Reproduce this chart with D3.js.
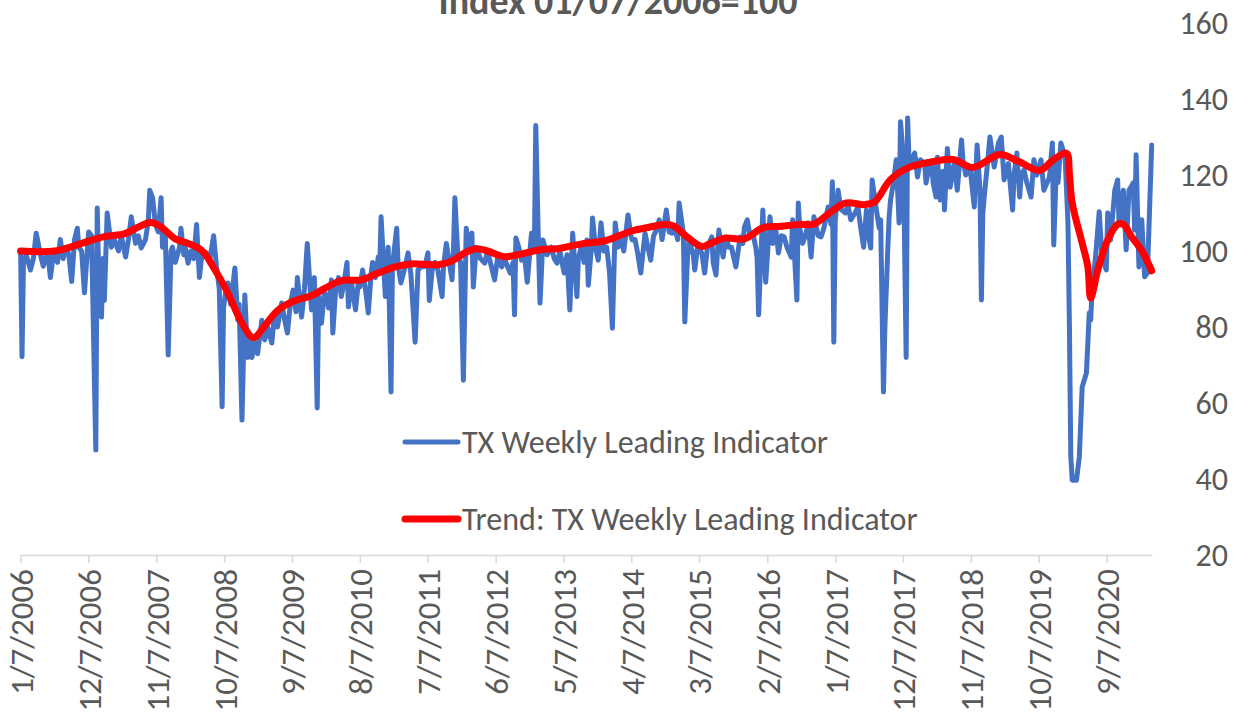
<!DOCTYPE html>
<html lang="en">

<head>
  <meta charset="UTF-8" />
  <title>TX Weekly Leading Indicator</title>
  <script src="https://d3js.org/d3.v7.min.js"></script>
  <style>
    body {
      margin: 0;
      background: #fff;
      font-family: Carlito, Lato, "Liberation Sans", sans-serif;
    }

    text {
      fill: #595959;
    }
  </style>
</head>

<body>
  <svg width="1242" height="715"></svg>

  <script>
    // weekly series, first week = 1/7/2006
    const startDate = new Date(2006, 0, 7);

    const txWeeks = [
      0, 1, 2, 4, 7, 9, 11, 14, 16, 19, 21, 23, 26, 28, 30, 32, 34, 36, 38, 40,
      41, 43, 45, 47, 48, 50, 53, 54, 55, 57, 58, 59, 61, 64, 66, 69, 71, 74, 76, 78,
      81, 83, 85, 88, 90, 91, 93, 95, 97, 99, 100, 102, 104, 106, 107, 109, 112, 113, 115, 116,
      118, 120, 122, 124, 126, 128, 131, 133, 136, 138, 140, 142, 143, 144, 146, 148, 151, 153, 154, 156,
      158, 160, 161, 163, 165, 167, 170, 172, 174, 177, 179, 181, 184, 186, 188, 190, 192, 194, 195, 197,
      198, 200, 202, 205, 206, 207, 209, 210, 212, 214, 216, 217, 219, 220, 222, 224, 226, 228, 230, 231,
      233, 236, 238, 239, 241, 243, 245, 247, 248, 250, 252, 253, 254, 257, 259, 261, 262, 265, 266, 268,
      271, 273, 275, 278, 280, 282, 285, 287, 288, 290, 292, 294, 297, 298, 300, 302, 304, 305, 306, 308,
      310, 312, 314, 316, 318, 319, 321, 322, 324, 327, 329, 331, 334, 336, 339, 341, 343, 345, 347, 348,
      349, 351, 353, 355, 357, 360, 362, 363, 365, 366, 368, 371, 374, 376, 378, 380, 383, 385, 387, 389,
      392, 393, 395, 397, 399, 400, 402, 403, 405, 407, 409, 411, 413, 415, 417, 419, 421, 423, 425, 428,
      430, 431, 433, 435, 437, 440, 442, 444, 446, 448, 450, 452, 455, 457, 459, 461, 463, 464, 467, 468,
      470, 471, 474, 475, 477, 480, 482, 484, 487, 488, 490, 492, 493, 495, 497, 499, 501, 502, 504, 507,
      509, 510, 512, 514, 516, 518, 519, 520, 523, 525, 528, 530, 532, 534, 536, 538, 540, 543, 544, 547,
      548, 549, 551, 553, 555, 557, 559, 562, 564, 566, 569, 571, 572, 573, 574, 576, 578, 581, 583, 585,
      588, 590, 592, 594, 596, 597, 599, 600, 603, 605, 606, 608, 609, 611, 612, 613, 615, 617, 619, 620,
      622, 624, 625, 626, 627, 630, 632, 634, 637, 638, 640, 642, 643, 645, 646, 648, 650, 651, 653, 655,
      658, 660, 663, 664, 666, 669, 672, 674, 676, 677, 678, 679, 682, 683, 686, 689, 691, 693, 696, 699,
      700, 702, 704, 705, 707, 709, 712, 714, 716, 719, 721, 725, 727, 728, 730, 731, 733, 736, 738, 739,
      740, 741, 744, 746, 748, 751, 752, 753, 754, 755, 757, 758, 760, 762, 765, 766, 768, 771, 773, 774,
      777, 779, 781, 784, 785, 786, 788, 790, 792, 794, 797
    ];

    const txValues = [
      100, 72.2, 97, 99, 95, 98, 104.7, 99, 96, 100, 93, 99, 97, 103, 98, 101, 99, 92, 103, 106,
      101, 100, 89, 100, 105, 104, 47.6, 111.3, 95, 82.6, 98, 87, 110, 101, 103, 100, 104, 98.4, 103, 109,
      102, 104, 100.8, 103, 108, 116, 114, 107, 105, 114, 101, 104, 72.6, 100, 101, 97, 101, 106, 99, 101,
      96.8, 100, 98, 107, 93, 100, 99.5, 97, 104, 96, 90, 59, 85, 88, 91.6, 86, 95.5, 81.8, 86, 55.5,
      88.4, 72, 78, 72, 76, 73, 81.8, 76.6, 80, 75.8, 83.7, 80, 86.3, 82, 78.4, 86, 89.7, 84, 93, 86,
      82.6, 90, 102, 84.5, 91, 93, 58.7, 88, 81, 89, 88, 85, 92.4, 78.4, 90, 93, 88, 92, 97, 85.3,
      92, 84.5, 92, 90.5, 95, 90, 83.7, 94, 97, 93, 98.4, 95, 109, 88, 101, 62.9, 96, 106, 96, 91.6,
      96, 99.5, 94, 76, 95, 95.8, 96, 99.5, 87, 95, 97, 95, 88, 96, 102, 97, 92.4, 100, 114, 99.5,
      97, 66, 106, 100, 104.7, 90.5, 101, 100, 98, 96.8, 100, 97, 92.4, 98, 95.8, 98, 96, 94.2, 97, 83.2,
      103.4, 101, 97.6, 99, 91.8, 104.7, 100, 133, 100, 86.3, 102.9, 99, 101, 98, 96.8, 100, 94.2, 99, 84.5, 104.7,
      88, 98, 101, 97, 102.9, 91, 100, 108.7, 101, 97.6, 107.4, 100, 101, 94.2, 79.7, 107.4, 101, 102.9, 100, 109.5,
      104, 102.9, 103, 99, 94.2, 104.7, 101, 97.6, 104, 105.5, 108.2, 103, 110.8, 105, 104.7, 106, 103, 112.6, 104.7, 81.3,
      99, 102.9, 99, 95, 101, 99.5, 94.2, 101, 103.7, 97, 93.7, 105.5, 103, 98.4, 103.7, 101, 101, 99, 95.8, 103.7,
      102, 106.3, 108.2, 104, 104.7, 101, 98, 83.2, 110.8, 91.8, 109, 102, 106, 99.5, 104, 103.7, 101, 98.4, 108.2, 87.1,
      112.6, 106, 102, 104, 107.4, 98.4, 109, 104, 103.7, 106, 111.6, 107, 118.2, 76, 108, 116, 111, 110, 112, 108.2,
      110, 111.6, 106, 101, 110.8, 105, 100.8, 118.7, 110.8, 106, 108.2, 62.9, 80, 100, 109, 113.4, 118, 124, 107.4, 134,
      124.7, 72, 135, 124, 123, 125.8, 119.5, 124, 123, 117.9, 122, 123, 118, 114.2, 124.7, 113.4, 121, 110.8, 127, 116.8,
      123.4, 116, 129.2, 124, 120, 122, 111.6, 127.9, 116, 87.1, 110, 114.2, 125.8, 130, 122.1, 128.4, 130, 118.7, 123, 110.8,
      120, 125.8, 114.2, 120, 121.3, 118, 114.2, 124, 120, 124, 116, 119.5, 128.4, 101.6, 124.7, 118, 128.4, 124.7, 107.4, 81,
      45.8, 39.7, 39.7, 45.8, 64.2, 67.9, 75.8, 83.7, 81.8, 89.7, 96.8, 101, 110.3, 98.4, 95, 110, 102.9, 116, 118.7, 107.4,
      116, 100.3, 116, 117.9, 105.5, 125.3, 95.8, 108.2, 93.2, 94.2, 127.9
    ];

    const trendWeeks = [
      0, 24, 43, 59, 73, 83, 92, 99, 109, 118, 128, 137, 146, 156, 164, 172, 181, 193, 205, 214,
      226, 240, 252, 264, 275, 294, 304, 313, 321, 329, 341, 350, 367, 378, 397, 412, 430, 442, 456, 461,
      470, 480, 485, 496, 510, 523, 536, 548, 559, 569, 581, 595, 602, 613, 626, 644, 657, 671, 690, 703,
      718, 728, 737, 739, 741, 748, 752, 754, 759, 766, 773, 777, 783, 790, 797
    ];

    const trendValues = [
      100, 100, 102, 103.8, 104.5, 106.3, 107.5, 106.3, 103.2, 102, 100, 95, 89, 81, 77.2, 80.3, 84.3, 86.9, 88.2, 90.1,
      92.2, 92.4, 94.2, 95.8, 96.6, 96.4, 97.4, 99.5, 100.6, 100, 98.5, 99, 100.4, 100.6, 102, 102.7, 105.2, 106.2, 107, 106.4,
      103.6, 101.2, 101.8, 103.4, 103.2, 106.1, 106.5, 107, 107.1, 109.7, 112.6, 112.2, 113, 118.8, 122, 123.6, 124.1, 122, 125.4, 123.6,
      121.2, 124.1, 125.7, 120.3, 112.6, 102.1, 95.8, 87.6, 95, 102.9, 107, 107, 103.6, 100.1, 94.8
    ];

    const tickLabels = [
      "1/7/2006", "12/7/2006", "11/7/2007", "10/7/2008", "9/7/2009", "8/7/2010",
      "7/7/2011", "6/7/2012", "5/7/2013", "4/7/2014", "3/7/2015", "2/7/2016",
      "1/7/2017", "12/7/2017", "11/7/2018", "10/7/2019", "9/7/2020"
    ];

    const yTicks = [20, 40, 60, 80, 100, 120, 140, 160];

    const seriesNames = ["TX Weekly Leading Indicator", "Trend: TX Weekly Leading Indicator"];
    const seriesColors = ["#4472C4", "#FF0000"];

    const svg = d3.select("svg");
    const weekDate = w => d3.timeDay.offset(startDate, w * 7);
    const parseLabel = d3.timeParse("%-m/%-d/%Y");

    const x = d3.scaleTime()
      .domain([startDate, weekDate(d3.max(txWeeks))])
      .range([20.6, 1151.7]);
    const y = d3.scaleLinear()
      .domain([20, 160])
      .range([555, 23]);

    const tx = txWeeks.map((w, i) => ({ date: weekDate(w), value: txValues[i] }));
    const trend = trendWeeks.map((w, i) => ({ date: weekDate(w), value: trendValues[i] }));

    // title (its top is cut off in the original)
    svg.append("text")
      .attr("x", 618)
      .attr("y", 14)
      .attr("text-anchor", "middle")
      .style("font-size", "38px")
      .style("font-weight", "bold")
      .text("Index 01/07/2006=100");

    // x axis
    const xAxis = d3.axisBottom(x)
      .tickValues(tickLabels.map(parseLabel))
      .tickFormat((d, i) => tickLabels[i])
      .tickSize(8)
      .tickSizeOuter(0);
    const gx = svg.append("g")
      .attr("transform", "translate(0,555)")
      .call(xAxis);
    gx.select(".domain").attr("stroke", "#D9D9D9").attr("stroke-width", 1.5);
    gx.selectAll(".tick line").attr("stroke", "#D9D9D9").attr("stroke-width", 1.5);
    gx.selectAll(".tick text")
      .attr("transform", "rotate(-90)")
      .attr("x", -14)
      .attr("y", 0)
      .attr("dy", "0.36em")
      .style("text-anchor", "end")
      .style("font-size", "33px")
      .style("font-family", "Carlito, Lato, sans-serif")
      .attr("fill", "#595959");

    // y axis labels on the right
    svg.append("g")
      .selectAll("text")
      .data(yTicks)
      .join("text")
      .attr("x", 1228)
      .attr("y", d => y(d))
      .attr("dy", "0.35em")
      .attr("text-anchor", "end")
      .style("font-size", "32px")
      .text(d => d);

    // series
    const line = d3.line()
      .x(d => x(d.date))
      .y(d => y(d.value));

    svg.append("path")
      .datum(tx)
      .attr("fill", "none")
      .attr("stroke", seriesColors[0])
      .attr("stroke-width", 5)
      .attr("stroke-linejoin", "round")
      .attr("stroke-linecap", "round")
      .attr("d", line);

    svg.append("path")
      .datum(trend)
      .attr("fill", "none")
      .attr("stroke", seriesColors[1])
      .attr("stroke-width", 7)
      .attr("stroke-linejoin", "round")
      .attr("stroke-linecap", "round")
      .attr("d", line.curve(d3.curveCatmullRom.alpha(0.5)));

    // legend
    const legend = svg.append("g");
    const legendRows = legend.selectAll("g")
      .data(seriesNames)
      .join("g")
      .attr("transform", (d, i) => `translate(405,${442 + i * 77})`);
    legendRows.append("line")
      .attr("x1", 0)
      .attr("x2", 53)
      .attr("stroke", (d, i) => seriesColors[i])
      .attr("stroke-width", (d, i) => i ? 7 : 5)
      .attr("stroke-linecap", "round");
    legendRows.append("text")
      .attr("x", 57)
      .attr("dy", "0.35em")
      .style("font-size", "32px")
      .text(d => d);
  </script>
</body>

</html>
